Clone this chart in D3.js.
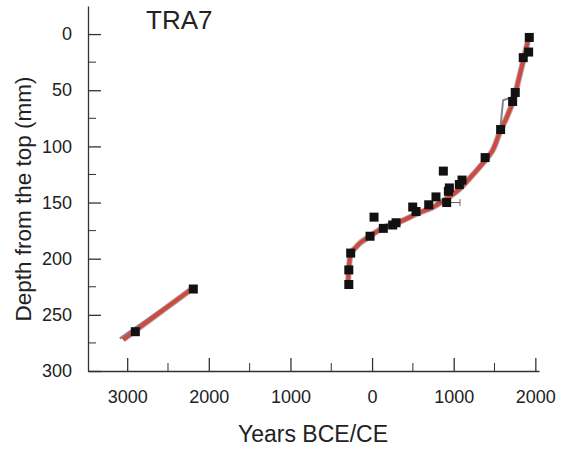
<!DOCTYPE html>
<html>
<head>
<meta charset="utf-8">
<script src="https://cdn.jsdelivr.net/npm/d3@7"></script>
<style>
  body { margin: 0; background: #fff; }
  text { font-family: "Liberation Sans", Arial, sans-serif; fill: #222; }
</style>
</head>
<body>
<script>
// dated samples: year (negative = BCE) and depth in mm
const pointYears = [-2900, -2190, -285, -285, -262, -25, 24, 138, 253, 294, 498, 539, 694, 783, 914, 873, 935, 947, 1069, 1102, 1385, 1575, 1722, 1754, 1852, 1918, 1926];
const pointDepths = [265, 227, 223, 210, 195, 180, 163, 173, 170, 168, 154, 158, 152, 145, 150, 122, 140, 137, 134, 130, 110, 85, 60, 52, 21, 16, 3];

// age model, lower (older) part
const oldModelYears = [-3050, -2190];
const oldModelDepths = [272, 226];
const oldAltYears = [-3090, -2230];
const oldAltDepths = [271, 228];

// age model, upper part
const modelYears = [-297, -285, -261, -200, -147, -24, 150, 343, 550, 750, 900, 1037, 1200, 1322, 1465, 1567, 1650, 1722, 1804, 1865, 1922];
const modelDepths = [226, 210, 195, 190, 186, 180, 172, 167, 160, 154, 147, 140, 128, 118, 105, 87, 74, 61, 38, 20, 2];

// alternative model branch (grey)
const altYears = [1567, 1605, 1722];
const altDepths = [87, 59, 56];

// horizontal error bar on one sample
const errYear = [780, 1077];
const errDepth = 150;

const xTicks = [-3000, -2000, -1000, 0, 1000, 2000];
const yTicks = [0, 50, 100, 150, 200, 250, 300];

const width = 572, height = 450;
const svg = d3.select("body").append("svg").attr("width", width).attr("height", height);

const x = d3.scaleLinear().domain([-3480, 2045]).range([88, 539]);
const y = d3.scaleLinear().domain([-25, 300]).range([6, 371]);

function pairs(xs, ys) { return xs.map((v, i) => [v, ys[i]]); }
const line = d3.line().x(d => x(d[0])).y(d => y(d[1]));

// axes
const xAxis = svg.append("g").attr("transform", `translate(0,${y(300)})`)
  .call(d3.axisBottom(x).tickValues(xTicks).tickFormat(d => Math.abs(d)).tickSizeInner(-13).tickSizeOuter(0).tickPadding(19));
xAxis.append("g").selectAll("line").data(d3.range(-3500, 2001, 1000).filter(v => v > -3480))
  .join("line").attr("x1", d => x(d)).attr("x2", d => x(d)).attr("y1", 0).attr("y2", -8).attr("stroke", "#333");

const yAxis = svg.append("g").attr("transform", `translate(${x.range()[0]},0)`)
  .call(d3.axisLeft(y).tickValues(yTicks).tickSizeInner(-13).tickSizeOuter(0).tickPadding(16));
yAxis.append("g").selectAll("line").data(d3.range(25, 300, 50))
  .join("line").attr("y1", d => y(d)).attr("y2", d => y(d)).attr("x1", 0).attr("x2", 8).attr("stroke", "#333");

svg.selectAll(".domain, .tick line").attr("stroke", "#333").attr("stroke-width", 1.3);
svg.selectAll(".tick text").style("font-size", "18px").attr("fill", "#222");

// model lines
svg.append("path").attr("d", line(pairs(oldAltYears, oldAltDepths)))
  .attr("fill", "none").attr("stroke", "#8a8a8a").attr("stroke-width", 2.5);
svg.append("path").attr("d", line(pairs(altYears, altDepths)))
  .attr("fill", "none").attr("stroke", "#888").attr("stroke-width", 2);
[pairs(oldModelYears, oldModelDepths), pairs(modelYears, modelDepths)].forEach(p => {
  svg.append("path").attr("d", line.curve(d3.curveMonotoneY)(p))
    .attr("fill", "none").attr("stroke", "#9a7a76").attr("stroke-width", 6).attr("opacity", 0.7);
  svg.append("path").attr("d", line.curve(d3.curveMonotoneY)(p))
    .attr("fill", "none").attr("stroke", "#cc4a43").attr("stroke-width", 4);
});

// error bar
svg.append("line").attr("x1", x(errYear[0])).attr("x2", x(errYear[1]))
  .attr("y1", y(errDepth)).attr("y2", y(errDepth)).attr("stroke", "#666").attr("stroke-width", 1);
svg.append("line").attr("x1", x(errYear[1])).attr("x2", x(errYear[1]))
  .attr("y1", y(errDepth) - 3.5).attr("y2", y(errDepth) + 3.5).attr("stroke", "#666").attr("stroke-width", 1);

// samples
const sq = 9;
svg.append("g").selectAll("rect").data(pairs(pointYears, pointDepths)).join("rect")
  .attr("x", d => x(d[0]) - sq / 2).attr("y", d => y(d[1]) - sq / 2)
  .attr("width", sq).attr("height", sq).attr("fill", "#111");

// labels
svg.append("text").attr("x", 146).attr("y", 29).style("font-size", "26px").text("TRA7");
svg.append("text").attr("x", 313).attr("y", 442).attr("text-anchor", "middle").style("font-size", "23px").text("Years BCE/CE");
svg.append("text").attr("transform", "translate(31,199) rotate(-90)").attr("text-anchor", "middle")
  .style("font-size", "22.5px").text("Depth from the top (mm)");
</script>
</body>
</html>
